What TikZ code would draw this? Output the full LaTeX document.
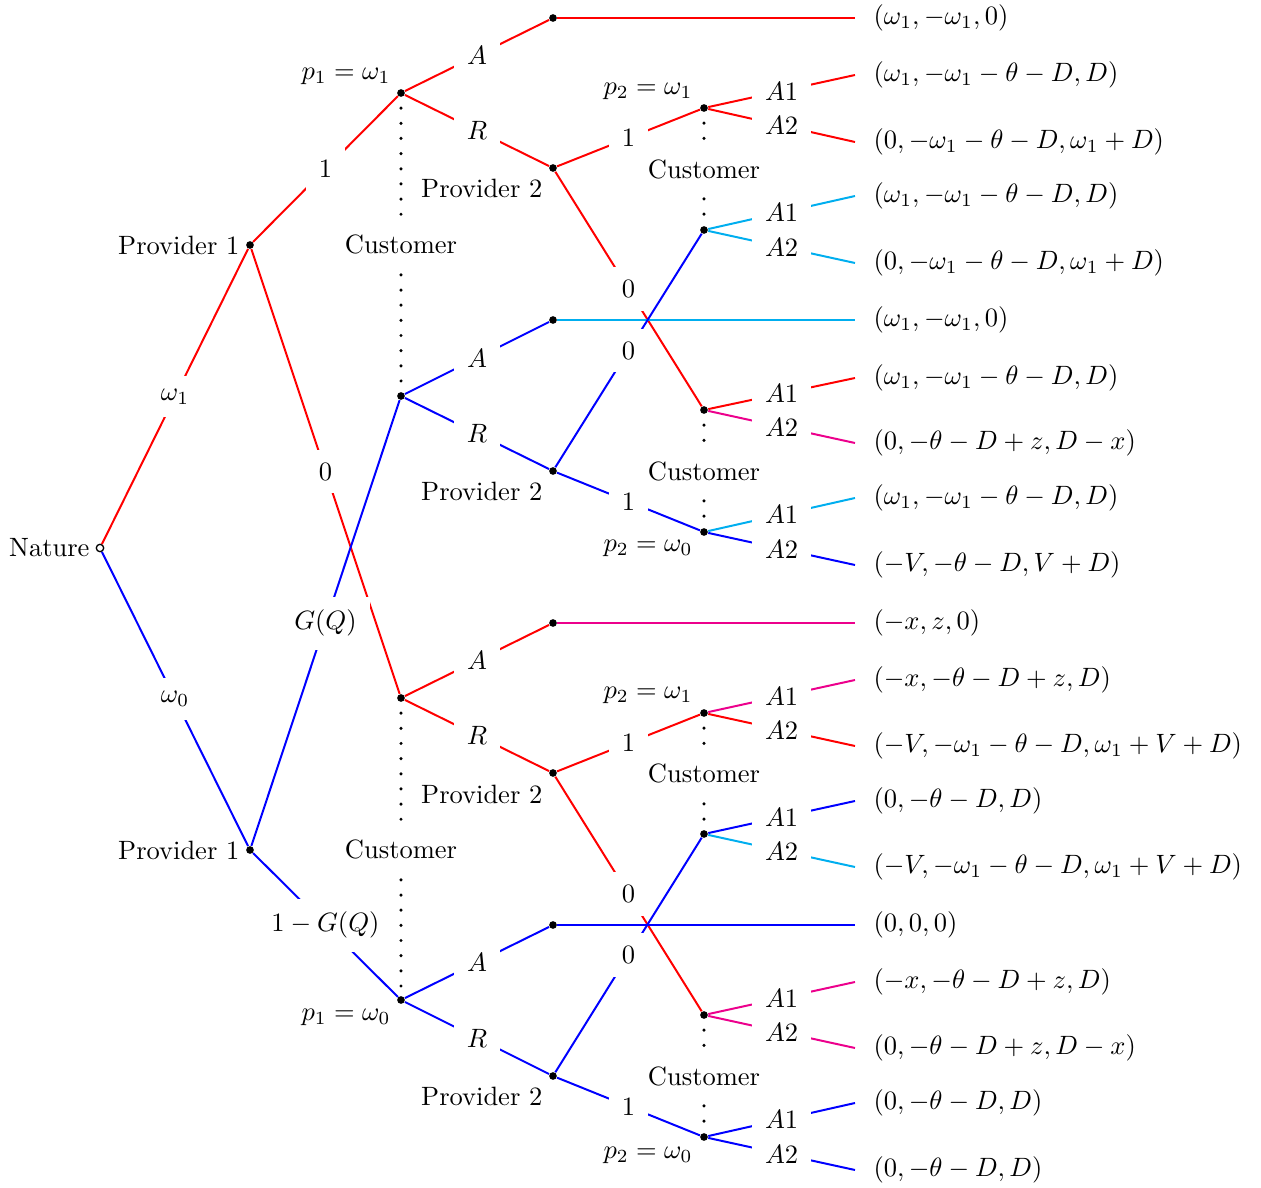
\documentclass[tikz,border=0pt]{standalone}
\usepackage{xcolor}
\definecolor{cy}{RGB}{0,174,239}
\definecolor{mg}{RGB}{236,0,140}
\begin{document}
\begin{tikzpicture}[x=0.3774pt,y=-0.3774pt,
  dot/.style={circle,fill=black,inner sep=0pt,minimum size=2.9pt},
  odot/.style={circle,draw=black,fill=white,inner sep=0pt,minimum size=2.8pt,line width=0.5pt},
  edge/.style={line width=0.75pt},
  lbl/.style={fill=white,text=black,inner sep=5pt},
  pay/.style={anchor=west,inner xsep=6.8pt,inner ysep=2pt},
  info/.style={line width=1.3pt,line cap=round,dash pattern=on 0pt off 5.72pt},
  txt/.style={inner sep=0pt,anchor=east}]
\useasboundingbox (0,0) rectangle (1261,1188);

% decision nodes
\node[odot] (nat) at (100,548) {};
\node[dot] (pu) at (250,245) {};
\node[dot] (pl) at (250,850) {};
\node[dot] (ca) at (401,93) {};
\node[dot] (cb) at (401,396) {};
\node[dot] (cc) at (401,698) {};
\node[dot] (cd) at (401,1000) {};
\node[dot] (ta) at (553,18) {};
\node[dot] (tb) at (553,320) {};
\node[dot] (tc) at (553,623) {};
\node[dot] (td) at (553,925) {};
\node[dot] (qa) at (553,168) {};
\node[dot] (qb) at (553,471) {};
\node[dot] (qc) at (553,773) {};
\node[dot] (qd) at (553,1076) {};
\node[dot] (ka) at (704,108) {};
\node[dot] (kb) at (704,230) {};
\node[dot] (kc) at (704,410) {};
\node[dot] (kd) at (704,532) {};
\node[dot] (ke) at (704,713) {};
\node[dot] (kf) at (704,834) {};
\node[dot] (kg) at (704,1015) {};
\node[dot] (kh) at (704,1137) {};

% player labels
\node[txt] (lnat) at (90,548) {Nature};
\node[txt] (lpu) at (240,245) {Provider 1};
\node[txt] (lpl) at (240,850) {Provider 1};
\node[txt] (lqa) at (543,188) {Provider 2};
\node[txt] (lqb) at (543,491) {Provider 2};
\node[txt] (lqc) at (543,794) {Provider 2};
\node[txt] (lqd) at (543,1096) {Provider 2};
\node[txt] (lca) at (391,76) {$p_1=\omega_1$};
\node[txt] (lcd) at (391,1017) {$p_1=\omega_0$};
\node[txt] (lka) at (693,91) {$p_2=\omega_1$};
\node[txt] (lkd) at (693,548) {$p_2=\omega_0$};
\node[txt] (lke) at (693,695) {$p_2=\omega_1$};
\node[txt] (lkh) at (693,1155) {$p_2=\omega_0$};

% payoffs
\node[pay] (p1) at (855,18) {$(\omega_1,-\omega_1,0)$};
\node[pay] (p2) at (855,75) {$(\omega_1,-\omega_1-\theta-D,D)$};
\node[pay] (p3) at (855,142) {$(0,-\omega_1-\theta-D,\omega_1+D)$};
\node[pay] (p4) at (855,196) {$(\omega_1,-\omega_1-\theta-D,D)$};
\node[pay] (p5) at (855,263) {$(0,-\omega_1-\theta-D,\omega_1+D)$};
\node[pay] (p6) at (855,320) {$(\omega_1,-\omega_1,0)$};
\node[pay] (p7) at (855,378) {$(\omega_1,-\omega_1-\theta-D,D)$};
\node[pay] (p8) at (855,443) {$(0,-\theta-D+z,D-x)$};
\node[pay] (p9) at (855,498) {$(\omega_1,-\omega_1-\theta-D,D)$};
\node[pay] (p10) at (855,565) {$(-V,-\theta-D,V+D)$};
\node[pay] (p11) at (855,623) {$(-x,z,0)$};
\node[pay] (p12) at (855,680) {$(-x,-\theta-D+z,D)$};
\node[pay] (p13) at (855,746) {$(-V,-\omega_1-\theta-D,\omega_1+V+D)$};
\node[pay] (p14) at (855,801) {$(0,-\theta-D,D)$};
\node[pay] (p15) at (855,867) {$(-V,-\omega_1-\theta-D,\omega_1+V+D)$};
\node[pay] (p16) at (855,925) {$(0,0,0)$};
\node[pay] (p17) at (855,982) {$(-x,-\theta-D+z,D)$};
\node[pay] (p18) at (855,1048) {$(0,-\theta-D+z,D-x)$};
\node[pay] (p19) at (855,1103) {$(0,-\theta-D,D)$};
\node[pay] (p20) at (855,1170) {$(0,-\theta-D,D)$};

% Nature and Provider 1
\draw[edge,red] (nat) -- node[lbl]{$\omega_1$} (pu);
\draw[edge,blue] (nat) -- node[lbl]{$\omega_0$} (pl);
\draw[edge,red] (pu) -- node[lbl]{$1$} (ca);
\draw[edge,red] (pu) -- node[lbl]{$0$} (cc);
\draw[edge,blue] (pl) -- node[lbl]{$G(Q)$} (cb);
\draw[edge,blue] (pl) -- node[lbl]{$1-G(Q)$} (cd);

% subtree ca
\draw[edge,red] (ca) -- node[lbl]{$A$} (ta);
\draw[edge,red] (ca) -- node[lbl]{$R$} (qa);
\draw[edge,red] (ta) -- (p1.west);
\draw[edge,red] (qa) -- node[lbl]{$1$} (ka);
\draw[edge,red] (qa) -- node[lbl]{$0$} (kc);
\draw[edge,red] (ka) -- node[lbl]{$A1$} (p2.west);
\draw[edge,red] (ka) -- node[lbl]{$A2$} (p3.west);
\draw[edge,red] (kc) -- node[lbl]{$A1$} (p7.west);
\draw[edge,mg] (kc) -- node[lbl]{$A2$} (p8.west);

% subtree cb
\draw[edge,blue] (cb) -- node[lbl]{$A$} (tb);
\draw[edge,blue] (cb) -- node[lbl]{$R$} (qb);
\draw[edge,cy] (tb) -- (p6.west);
\draw[edge,blue] (qb) -- node[lbl]{$0$} (kb);
\draw[edge,blue] (qb) -- node[lbl]{$1$} (kd);
\draw[edge,cy] (kb) -- node[lbl]{$A1$} (p4.west);
\draw[edge,cy] (kb) -- node[lbl]{$A2$} (p5.west);
\draw[edge,cy] (kd) -- node[lbl]{$A1$} (p9.west);
\draw[edge,blue] (kd) -- node[lbl]{$A2$} (p10.west);

% subtree cc
\draw[edge,red] (cc) -- node[lbl]{$A$} (tc);
\draw[edge,red] (cc) -- node[lbl]{$R$} (qc);
\draw[edge,mg] (tc) -- (p11.west);
\draw[edge,red] (qc) -- node[lbl]{$1$} (ke);
\draw[edge,red] (qc) -- node[lbl]{$0$} (kg);
\draw[edge,mg] (ke) -- node[lbl]{$A1$} (p12.west);
\draw[edge,red] (ke) -- node[lbl]{$A2$} (p13.west);
\draw[edge,mg] (kg) -- node[lbl]{$A1$} (p17.west);
\draw[edge,mg] (kg) -- node[lbl]{$A2$} (p18.west);

% subtree cd
\draw[edge,blue] (cd) -- node[lbl]{$A$} (td);
\draw[edge,blue] (cd) -- node[lbl]{$R$} (qd);
\draw[edge,blue] (td) -- (p16.west);
\draw[edge,blue] (qd) -- node[lbl]{$0$} (kf);
\draw[edge,blue] (qd) -- node[lbl]{$1$} (kh);
\draw[edge,blue] (kf) -- node[lbl]{$A1$} (p14.west);
\draw[edge,cy] (kf) -- node[lbl]{$A2$} (p15.west);
\draw[edge,blue] (kh) -- node[lbl]{$A1$} (p19.west);
\draw[edge,blue] (kh) -- node[lbl]{$A2$} (p20.west);

% information sets
\draw[info] (ca.center) -- node[lbl]{Customer} (cb.center);
\draw[info] (cc.center) -- node[lbl]{Customer} (cd.center);
\draw[info] (ka.center) -- node[lbl]{Customer} (kb.center);
\draw[info] (kc.center) -- node[lbl]{Customer} (kd.center);
\draw[info] (ke.center) -- node[lbl]{Customer} (kf.center);
\draw[info] (kg.center) -- node[lbl]{Customer} (kh.center);
\end{tikzpicture}
\end{document}
